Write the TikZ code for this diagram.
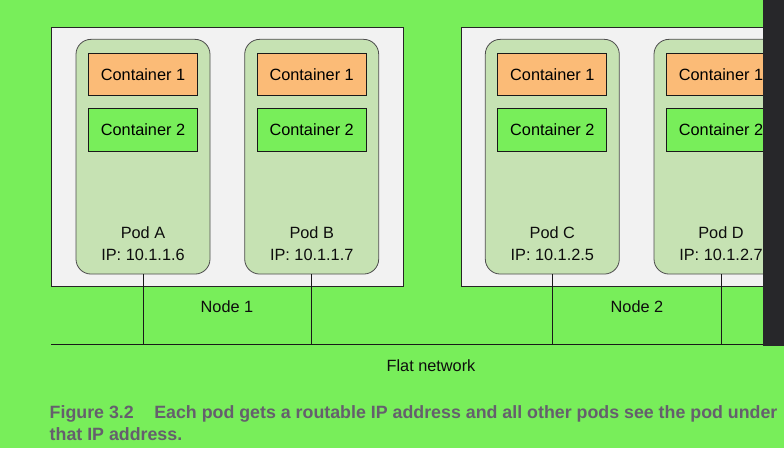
\documentclass[tikz,border=0pt]{standalone}
\usepackage{fontspec}
\setmainfont{Liberation Sans}
\usetikzlibrary{positioning}
\definecolor{bggreen}  {HTML}{78EE5A}
\definecolor{hostgray} {HTML}{F2F2F2}
\definecolor{podgreen} {HTML}{C6E2B3}
\definecolor{podedge}  {HTML}{4D4D4D}
\definecolor{ctrorange}{HTML}{FBBB77}
\definecolor{captgray} {HTML}{655F6D}
\definecolor{darkstrip}{HTML}{27272A}
\newcommand{\dia}      {\fontsize{16.3}{19}\selectfont}
\newcommand{\captfont} {\fontsize{17.8}{22}\selectfont\bfseries}

\begin{document}
\begin{tikzpicture}[x=1pt,y=1pt,
   hostbox/.style={draw=black!85,fill=hostgray,line width=0.8pt,minimum width=352pt,minimum height=259pt},
   podbox/.style={draw=podedge,fill=podgreen,line width=0.8pt,rounded corners=15pt,minimum width=134pt,minimum height=234.7pt},
   ctrone/.style={draw=black!90,fill=ctrorange,line width=0.8pt,minimum width=109pt,minimum height=42pt,inner sep=0pt,font=\dia},
   ctrtwo/.style={ctrone,fill=bggreen,minimum height=43pt},
   txt/.style={inner sep=0pt,font=\dia,text=black!95},
   capt/.style={inner sep=0pt,anchor=base west,font=\captfont,text=captgray},
   wire/.style={draw=black!90,line width=0.8pt}]
   \fill[bggreen] (0,0) rectangle (784,448);
   \useasboundingbox (0,0) rectangle (784,448);
   \node[hostbox] (node1) at (227,291.5) {};
   \node[hostbox] (node2) at (637,291.5) {};
   \node[podbox] (podA) at (143,291.3) {};
   \node[podbox] (podB) at (311.7,291.3) {};
   \node[podbox] (podC) at (552.3,291.3) {};
   \node[podbox] (podD) at (721,291.3) {};
   \node[ctrone,below=14pt of podA.north] (a1) {Container 1};
   \node[ctrtwo,below=12pt of a1]         (a2) {Container 2};
   \node[ctrone,below=14pt of podB.north] (b1) {Container 1};
   \node[ctrtwo,below=12pt of b1]         (b2) {Container 2};
   \node[ctrone,below=14pt of podC.north] (c1) {Container 1};
   \node[ctrtwo,below=12pt of c1]         (c2) {Container 2};
   \node[ctrone,below=14pt of podD.north] (d1) {Container 1};
   \node[ctrtwo,below=12pt of d1]         (d2) {Container 2};
   \node[txt] (nameA) at ([yshift=42pt]podA.south) {Pod A};
   \node[txt] (ipA)   at ([yshift=20pt]podA.south) {IP: 10.1.1.6};
   \node[txt] (nameB) at ([yshift=42pt]podB.south) {Pod B};
   \node[txt] (ipB)   at ([yshift=20pt]podB.south) {IP: 10.1.1.7};
   \node[txt] (nameC) at ([yshift=42pt]podC.south) {Pod C};
   \node[txt] (ipC)   at ([yshift=20pt]podC.south) {IP: 10.1.2.5};
   \node[txt] (nameD) at ([yshift=42pt]podD.south) {Pod D};
   \node[txt] (ipD)   at ([yshift=20pt]podD.south) {IP: 10.1.2.7};
   \node[txt] (lbl1)  at ([yshift=-20pt]node1.south) {Node 1};
   \node[txt] (lbl2)  at ([yshift=-20pt]node2.south) {Node 2};
   % flat network
   \coordinate (netL) at (51,104);
   \coordinate (netR) at (784,104);
   \draw[wire] (netL) -- (netR);
   \draw[wire] (podA.south) -- (podA.south |- netL);
   \draw[wire] (podB.south) -- (podB.south |- netL);
   \draw[wire] (podC.south) -- (podC.south |- netL);
   \draw[wire] (podD.south) -- (podD.south |- netL);
   \node[txt] (flat) at (431,82) {Flat network};
   \node[capt] (cap1) at (49.5,29.7) {Figure 3.2\hspace{20.5pt}Each pod gets a routable IP address and all other pods see the pod under};
   \node[capt] (cap2) at (49.5,7.3)  {that IP address.};
   \fill[darkstrip] (763,102) rectangle (784,448);
\end{tikzpicture}
\end{document}
